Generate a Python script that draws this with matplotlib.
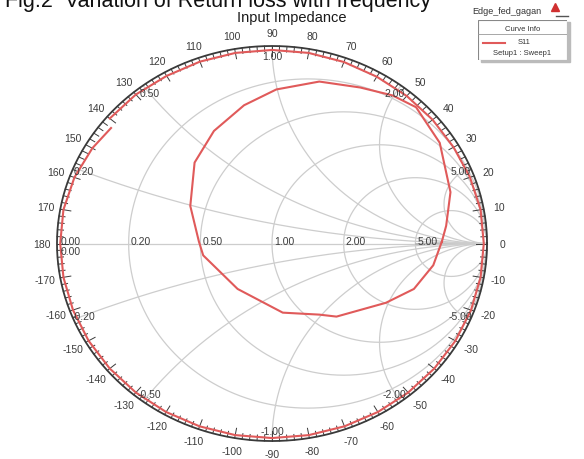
import numpy as np
import matplotlib.pyplot as plt
from matplotlib.patches import Rectangle

plt.rcParams['font.family'] = ['Liberation Sans', 'DejaVu Sans']

# smith chart grid values
r_values = [0.2, 0.5, 1.0, 2.0, 5.0]
x_values = [0.2, 0.5, 1.0, 2.0, 5.0]
r_labels = ['0.20', '0.50', '1.00', '2.00', '5.00']
x_labels = ['0.20', '0.50', '1.00', '2.00', '5.00']
angle_ticks = [0, 10, 20, 30, 40, 50, 60, 70, 80, 90, 100, 110, 120, 130, 140, 150, 160, 170, 180,
               -170, -160, -150, -140, -130, -120, -110, -100, -90, -80, -70, -60, -50, -40, -30, -20, -10]

# S11 trace (reflection coefficient)
# part near the outer rim: angle (deg) / magnitude
edge_ang = [142, 150, 160, 170, 180, 190, 200, 210, 220, 230, 240, 250, 260, 270, 280, 290, 300,
            310, 320, 330, 340, 350, 360, 370, 380, 390, 400, 410, 420, 430, 440, 450, 460, 470,
            480, 490, 500]
edge_mag = [0.95, 0.965, 0.978, 0.985, 0.985, 0.985, 0.985, 0.985, 0.985, 0.985, 0.985, 0.985,
            0.985, 0.985, 0.985, 0.985, 0.985, 0.985, 0.985, 0.985, 0.985, 0.985, 0.985, 0.985,
            0.98, 0.975, 0.975, 0.975, 0.975, 0.978, 0.98, 0.98, 0.98, 0.98, 0.98, 0.985, 0.985]
# resonance loop
loop_re = [0.79, 0.75, 0.66, 0.53, 0.30, 0.22, 0.05, -0.16, -0.32, -0.34, -0.38, -0.36, -0.27,
           -0.13, 0.02, 0.22, 0.41, 0.56, 0.67, 0.78, 0.83, 0.81, 0.79]
loop_im = [0.01, -0.11, -0.23, -0.30, -0.37, -0.36, -0.35, -0.23, -0.06, 0.01, 0.19, 0.41, 0.57,
           0.70, 0.78, 0.82, 0.79, 0.75, 0.69, 0.51, 0.26, 0.09, 0.01]

grid_c = '#cdcdcd'
txt_c = '#3c3c3c'
red = '#e05a5a'
fs = 7.5

fig = plt.figure(figsize=(5.84, 4.6), dpi=100)
ax = fig.add_axes([0, 0, 1, 1])
ax.set_xlim(-1.265, 1.451)
ax.set_ylim(-1.091, 1.238)
ax.axis('off')

t = np.linspace(0, 2 * np.pi, 721)

# resistance circles
for r, lab in zip(r_values, r_labels):
    c = r / (1 + r)
    rad = 1 / (1 + r)
    ax.plot(c + rad * np.cos(t), rad * np.sin(t), color=grid_c, lw=0.9)
    ax.text((r - 1) / (r + 1) + 0.01, 0.015, lab, fontsize=fs, color=txt_c, ha='left', va='center')
ax.text(-0.985, 0.015, '0.00', fontsize=fs, color=txt_c, ha='left', va='center')
ax.text(-0.985, -0.04, '0.00', fontsize=fs, color=txt_c, ha='left', va='center')
ax.plot([-1, 1], [0, 0], color=grid_c, lw=0.9)
ax.plot([0.67, 1], [0, 0], color='#b5b5b5', lw=1.3)

# reactance arcs
ta = np.linspace(-1.5 * np.pi, -0.5 * np.pi, 1441)
for x, lab in zip(x_values, x_labels):
    px = 1 + np.cos(ta) / x
    py = 1 / x + np.sin(ta) / x
    inside = px ** 2 + py ** 2 <= 1.0
    px = np.where(inside, px, np.nan)
    py = np.where(inside, py, np.nan)
    ax.plot(px, py, color=grid_c, lw=0.9)
    ax.plot(px, -py, color=grid_c, lw=0.9)
    th = np.pi - 2 * np.arctan(x)
    ax.text(0.95 * np.cos(th), 0.95 * np.sin(th), lab, fontsize=fs, color=txt_c,
            ha='center', va='center')
    ax.text(0.95 * np.cos(th), -0.95 * np.sin(th), '-' + lab, fontsize=fs, color=txt_c,
            ha='center', va='center')

# outer rim with degree ticks
ax.plot(np.cos(t), np.sin(t), color='#3a3a3a', lw=1.3)
for a in range(-180, 180, 2):
    ar = np.deg2rad(a)
    r_in = 0.95 if a % 10 == 0 else 0.972
    ax.plot([r_in * np.cos(ar), np.cos(ar)], [r_in * np.sin(ar), np.sin(ar)],
            color='#3a3a3a', lw=0.7)
for a in angle_ticks:
    ar = np.deg2rad(a)
    ax.text(1.07 * np.cos(ar), 1.065 * np.sin(ar), str(a), fontsize=fs, color=txt_c,
            ha='center', va='center')

# S11 trace
ea = np.deg2rad(edge_ang)
em = np.array(edge_mag)
ax.plot(em * np.cos(ea), em * np.sin(ea), color=red, lw=1.5)
ax.plot(loop_re, loop_im, color=red, lw=1.5)

# titles
fig.text(5 / 584, 1 - 7 / 460, 'Fig.2  Variation of Return loss with frequency', fontsize=15.5,
         color='#111111', ha='left', va='baseline')
fig.text(292 / 584, 1 - 18 / 460, 'Input Impedance', fontsize=10.5, color='#1a1a1a',
         ha='center', va='center', fontweight='medium')
fig.text(541 / 584, 1 - 11 / 460, 'Edge_fed_gagan', fontsize=6.5, color='#333333',
         ha='right', va='center')
fig.add_artist(plt.Line2D([556 / 584, 568 / 584], [1 - 17 / 460, 1 - 17 / 460], color='#555555', lw=1))
ax.plot(1.317, 1.2, marker='^', color='#d03030', ms=6)

# curve info box
lax = fig.add_axes([478 / 584, 1 - 61 / 460, 89 / 584, 40 / 460])
lax.set_xlim(0, 1)
lax.set_ylim(0, 1)
lax.axis('off')
lax.add_patch(Rectangle((0.03, -0.06), 1.0, 1.0, color='#bbbbbb', clip_on=False))
lax.add_patch(Rectangle((0, 0), 1.0, 1.0, facecolor='white', edgecolor='#888888', lw=0.8))
lax.text(0.5, 0.8, 'Curve Info', fontsize=5.5, color='#333333', ha='center', va='center')
lax.plot([0, 1], [0.64, 0.64], color='#999999', lw=0.6)
lax.plot([0.06, 0.3], [0.43, 0.43], color=red, lw=1.5)
lax.text(0.45, 0.45, 'S11', fontsize=5.5, color='#333333', ha='left', va='center')
lax.text(0.5, 0.18, 'Setup1 : Sweep1', fontsize=5.5, color='#333333', ha='center', va='center')

fig.savefig('out.png', dpi=100)
